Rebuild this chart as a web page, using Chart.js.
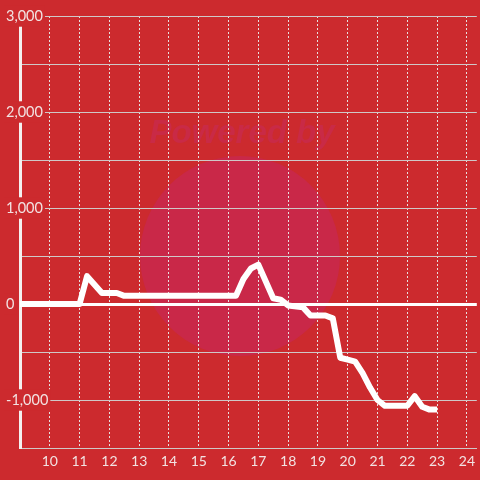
<!DOCTYPE html>
<html>
<head>
<meta charset="utf-8">
<script src="https://cdn.jsdelivr.net/npm/chart.js@4/dist/chart.umd.min.js"></script>
<style>
  html, body { margin: 0; padding: 0; background: #cc2a2e; }
  #wrap { width: 480px; height: 480px; }
</style>
</head>
<body>
<div id="wrap"><canvas id="chart" width="480" height="480"></canvas></div>
<script>
// hour of day (x) and value (y) at each break of the line
const hours  = [9, 11, 11.25, 11.75, 12.25, 12.5, 16.25, 16.5, 16.75, 17, 17.5, 17.75, 18, 18.5, 18.75, 19.25, 19.5, 19.75, 20, 20.25, 20.5, 20.75, 21, 21.25, 22, 22.25, 22.5, 22.75, 23];
const values = [0, 0, 290, 115, 115, 85, 85, 260, 370, 410, 60, 45, -15, -35, -120, -120, -150, -560, -580, -600, -720, -870, -1000, -1060, -1060, -960, -1070, -1100, -1100];

const xTicks = [10, 11, 12, 13, 14, 15, 16, 17, 18, 19, 20, 21, 22, 23, 24];
const yLabelled = [-1000, 0, 1000, 2000, 3000];

const BG = '#cc2a2e';
const LABEL = '#f2e2e2';

// faint watermark behind the grid
const watermark = {
    id: 'watermark',
    beforeDraw(chart) {
        const ctx = chart.ctx;
        ctx.save();
        ctx.fillStyle = '#c92848';
        ctx.beginPath();
        ctx.arc(240, 256, 100, 0, Math.PI * 2);
        ctx.fill();
        ctx.fillStyle = '#c92a46';
        ctx.font = 'italic bold 33px "Liberation Sans"';
        ctx.textAlign = 'center';
        ctx.textBaseline = 'alphabetic';
        ctx.fillText('Powered by', 242, 143);
        ctx.restore();
    }
};

new Chart(document.getElementById('chart'), {
    type: 'line',
    data: {
        datasets: [{
            data: hours.map((h, i) => ({ x: h, y: values[i] })),
            borderColor: '#ffffff',
            borderWidth: 6,
            borderJoinStyle: 'round',
            tension: 0,
            pointRadius: 0,
            fill: false
        }]
    },
    options: {
        responsive: false,
        animation: false,
        devicePixelRatio: 1,
        layout: { padding: { top: 16, left: 0, right: 0, bottom: 0 } },
        plugins: { legend: { display: false }, tooltip: { enabled: false } },
        scales: {
            x: {
                type: 'linear',
                min: 9,
                max: 9 + 460 / 30,
                afterBuildTicks: (s) => { s.ticks = xTicks.map(v => ({ value: v })); },
                afterFit: (s) => { s.height = 32; },
                grid: {
                    color: '#e6e0e0',
                    lineWidth: 1,
                    drawTicks: false
                },
                border: { display: true, color: '#cfc8c8', width: 1, dash: [2, 2] },
                ticks: {
                    color: LABEL,
                    font: { family: 'Lato', size: 14 },
                    padding: 5,
                    maxRotation: 0,
                    autoSkip: false
                }
            },
            y: {
                min: -1500,
                max: 3000,
                afterFit: (s) => { s.width = 20; },
                grid: {
                    color: (c) => c.tick && c.tick.value === 0 ? '#ffffff' : '#cfc8c8',
                    lineWidth: (c) => c.tick && c.tick.value === 0 ? 3 : 1,
                    drawTicks: false
                },
                border: { display: true, color: '#f4f0f0', width: 3 },
                ticks: {
                    stepSize: 500,
                    color: LABEL,
                    font: { family: 'Lato', size: 14.5 },
                    mirror: true,
                    padding: -14,
                    showLabelBackdrop: (c) => yLabelled.includes(c.tick.value),
                    backdropColor: BG,
                    backdropPadding: 2,
                    callback: (v) => yLabelled.includes(v) ? v.toLocaleString('en-US') : ''
                }
            }
        }
    },
    plugins: [watermark]
});
</script>
</body>
</html>
